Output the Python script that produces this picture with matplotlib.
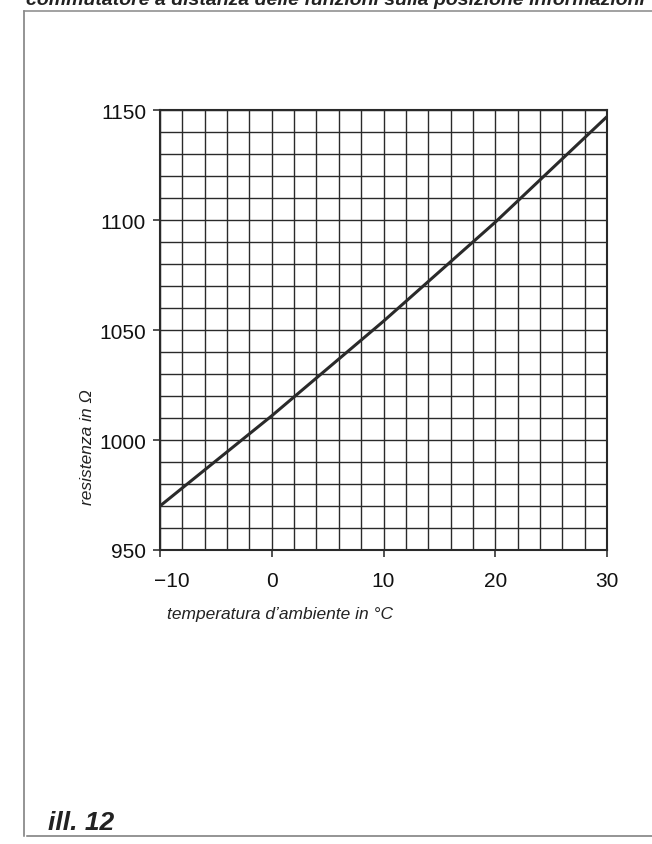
import matplotlib.pyplot as plt
import matplotlib.transforms as mtransforms
from matplotlib.lines import Line2D
import numpy as np

# values
temperature = [-10, 0, 10, 20, 30]
resistance = [970, 1011, 1054, 1099, 1147]

x_ticks = [-10, 0, 10, 20, 30]
x_tick_labels = ['\u221210', '0', '10', '20', '30']
y_ticks = [950, 1000, 1050, 1100, 1150]

plt.rcParams['font.family'] = ['Liberation Sans', 'DejaVu Sans']

W, H = 652, 845
fig = plt.figure(figsize=(W / 100, H / 100), dpi=100)

def fx(px):
    return px / W

def fy(py):
    return 1 - py / H

# page frame of the scan
fig.add_artist(Line2D([fx(24), fx(24)], [fy(12), fy(837)], color='#777', lw=1.1))
fig.add_artist(Line2D([fx(24), fx(652)], [fy(12), fy(12)], color='#888', lw=1.1))
fig.add_artist(Line2D([fx(27), fx(652)], [fy(837), fy(837)], color='#777', lw=1.1))

# cut-off running text at the very top
fig.text(fx(26), fy(5), 'commutatore a distanza delle funzioni sulla posizione informazioni',
         fontsize=14, style='italic', fontweight='bold', color='#222', va='baseline')

ax = fig.add_axes([fx(160), fy(551), fx(607) - fx(160), (551 - 111) / H])
ax.plot(temperature, resistance, color='#2a2a2a', lw=2.2, solid_capstyle='butt', zorder=3)

ax.set_xlim(-10, 30)
ax.set_ylim(950, 1150)
ax.set_xticks(x_ticks)
ax.set_xticklabels(x_tick_labels)
ax.set_yticks(y_ticks)
ax.set_xticks(np.arange(-10, 31, 2), minor=True)
ax.set_yticks(np.arange(950, 1151, 10), minor=True)
ax.grid(which='both', color='#2a2a2a', lw=1.0)
ax.set_axisbelow(True)

ax.tick_params(which='major', direction='out', length=5, width=1.2, color='#333',
               labelsize=15, labelcolor='#111')
ax.tick_params(axis='x', which='major', pad=10)
ax.tick_params(axis='y', which='major', pad=5)
ax.tick_params(which='minor', length=0)
for s in ax.spines.values():
    s.set_color('#2a2a2a')
    s.set_linewidth(1.5)

# the "-10" label sits a little to the right of its tick
lbl = ax.get_xticklabels()[0]
lbl.set_transform(lbl.get_transform() + mtransforms.ScaledTranslation(12 / 100, 0, fig.dpi_scale_trans))

fig.text(fx(88), fy(447), 'resistenza in \u03a9', rotation=90, fontsize=12.5,
         style='italic', ha='center', va='center', color='#222')
fig.text(fx(167), fy(615), 'temperatura d\u2019ambiente in \u00b0C', fontsize=12.5,
         style='italic', ha='left', va='center', color='#222')

fig.text(fx(48), fy(830), 'ill. 12', fontsize=19, style='italic', fontweight='bold',
         ha='left', va='baseline', color='#222')

fig.savefig('out.png', dpi=100)
